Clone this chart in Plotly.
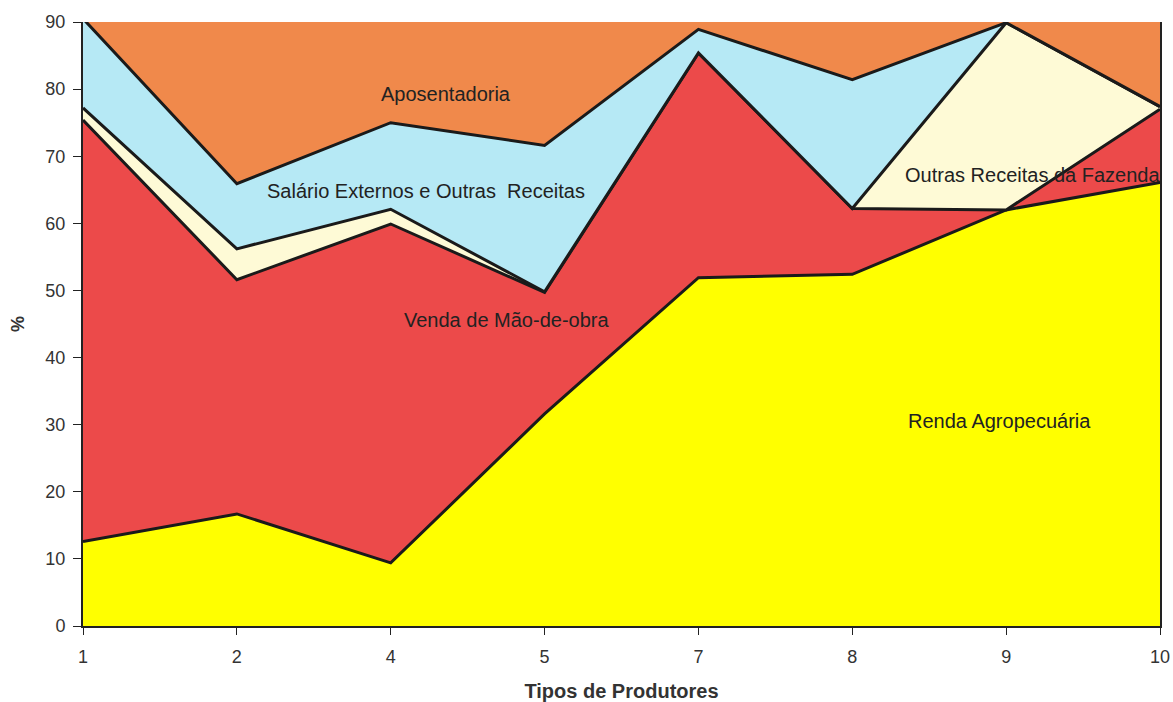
import plotly.graph_objects as go

# Producer types (categories) and income shares (%) per source
tipos = ["1", "2", "4", "5", "7", "8", "9", "10"]
renda_agro = [12.6, 16.7, 9.4, 31.6, 51.9, 52.4, 62.0, 66.1]
venda_mao_obra = [62.8, 34.9, 50.5, 18.1, 33.5, 9.8, 0.0, 10.9]
outras_fazenda = [1.8, 4.6, 2.2, 0.1, 0.0, 0.0, 27.9, 0.4]
salario_externo = [13.3, 9.7, 12.9, 21.8, 3.5, 19.2, 0.0, 0.0]
aposentadoria = [9.5, 34.1, 25.0, 28.4, 11.1, 18.6, 10.1, 22.6]

y_ticks = [0, 10, 20, 30, 40, 50, 60, 70, 80, 90]

series = [
    ("Renda Agropecuária", renda_agro, "#FFFF00"),
    ("Venda de Mão-de-obra", venda_mao_obra, "#EC4A4A"),
    ("Outras Receitas da Fazenda", outras_fazenda, "#FEFAD6"),
    ("Salário Externos e Outras Receitas", salario_externo, "#B6E9F5"),
    ("Aposentadoria", aposentadoria, "#F0894B"),
]

xpos = list(range(len(tipos)))
FAMILY = "Liberation Sans, Arial, sans-serif"

fig = go.Figure()
for name, vals, color in series:
    fig.add_trace(go.Scatter(
        x=xpos, y=vals, name=name, mode="lines",
        stackgroup="renda", fillcolor=color,
        line=dict(color="#1a1a1a", width=3),
        hoverinfo="x+y+name",
    ))

font_txt = dict(family=FAMILY, size=20, color="#222222")

labels = [
    ("Aposentadoria", 2.36, 79.3),
    ("Salário Externos e Outras  Receitas", 2.23, 64.8),
    ("Venda de Mão-de-obra", 2.75, 45.6),
    ("Outras Receitas da Fazenda", 6.17, 67.2),
    ("Renda Agropecuária", 5.96, 30.6),
]
for text, xv, yv in labels:
    fig.add_annotation(x=xv, y=yv, text=text, showarrow=False, font=font_txt,
                       xanchor="center", yanchor="middle")

fig.update_layout(
    width=1173, height=702,
    margin=dict(l=83, r=13, t=22, b=76, autoexpand=False),
    paper_bgcolor="white", plot_bgcolor="white",
    showlegend=False,
    font=font_txt,
)
fig.update_xaxes(
    range=[0, len(tipos) - 1], tickvals=xpos, ticktext=tipos,
    showgrid=False, zeroline=False, automargin=False,
    showline=True, linecolor="#222222", linewidth=2,
    ticks="outside", ticklen=7, tickcolor="#222222", ticklabelstandoff=6,
    tickfont=dict(family=FAMILY, size=18, color="#333333"),
    title=dict(text="<b>Tipos de Produtores</b>", standoff=22,
               font=dict(family=FAMILY, size=20, color="#333333")),
)
fig.update_yaxes(
    range=[0, 90], tickvals=y_ticks,
    showgrid=False, zeroline=False, automargin=False,
    showline=True, linecolor="#222222", linewidth=2, mirror=True,
    ticks="outside", ticklen=8, tickcolor="#222222", ticklabelstandoff=4,
    tickfont=dict(family=FAMILY, size=18, color="#333333"),
    title=dict(text="<b>%</b>", standoff=16,
               font=dict(family=FAMILY, size=18, color="#333333")),
)

fig.write_html("out.html")
